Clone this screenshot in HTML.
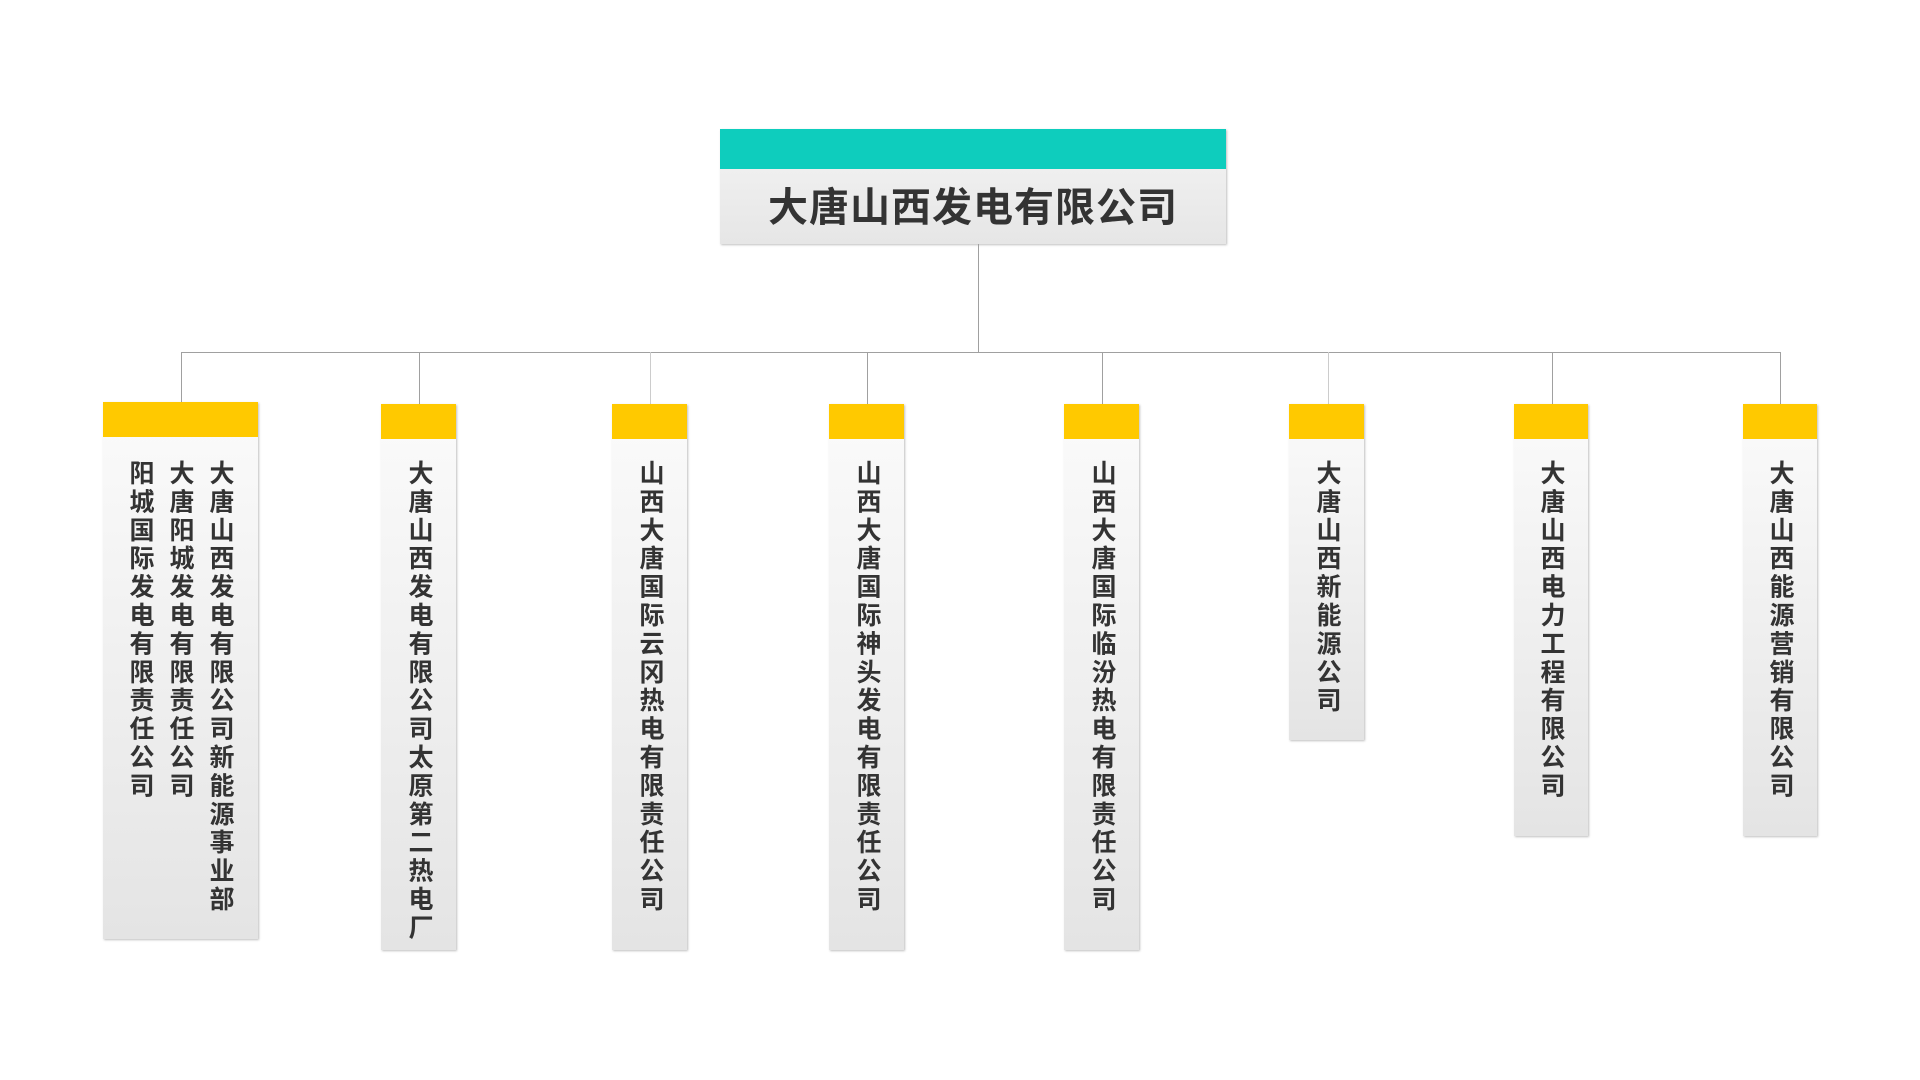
<!DOCTYPE html>
<html><head><meta charset="utf-8"><style>
body{margin:0;width:1920px;height:1080px;background:#fff;position:relative;overflow:hidden;font-family:"Liberation Sans","Noto Sans CJK SC",sans-serif}
.l{position:absolute;background:#a0a0a0}
.b{position:absolute;background:linear-gradient(#fbfbfb,#e4e4e4);box-shadow:1px 1px 2px rgba(0,0,0,.25)}
.b .y{position:absolute;left:0;right:0;top:0;height:35px;background:#ffc900}
.t{position:absolute;top:460px;writing-mode:vertical-rl;font-size:25px;letter-spacing:3.4px;font-weight:bold;color:#333;line-height:30px;white-space:nowrap}
</style></head><body>
<div class="b" style="left:720px;top:129px;width:506px;height:115px;background:linear-gradient(#f4f4f4,#e6e6e6)">
<div style="position:absolute;left:0;right:0;top:0;height:40px;background:#0ecdbd"></div>
<div style="position:absolute;left:0;right:0;top:46px;text-align:center;font-size:40px;font-weight:bold;color:#333;letter-spacing:1px">大唐山西发电有限公司</div>
</div>
<div class="l" style="left:978px;top:244px;width:1px;height:109px"></div>
<div class="l" style="left:181px;top:352px;width:1600px;height:1px"></div>
<div class="l" style="left:181px;top:352px;width:1px;height:51px"></div>
<div class="l" style="left:419px;top:352px;width:1px;height:52px"></div>
<div class="l" style="left:650px;top:352px;width:1px;height:52px;background:#ccc"></div>
<div class="l" style="left:867px;top:352px;width:1px;height:52px"></div>
<div class="l" style="left:1102px;top:352px;width:1px;height:52px"></div>
<div class="l" style="left:1328px;top:352px;width:1px;height:52px;background:#ccc"></div>
<div class="l" style="left:1552px;top:352px;width:1px;height:52px"></div>
<div class="l" style="left:1780px;top:352px;width:1px;height:52px"></div>

<div class="b" style="left:103px;top:402px;width:155px;height:537px"><div class="y"></div></div>
<div class="t" style="left:205px">大唐山西发电有限公司新能源事业部</div>
<div class="t" style="left:165px">大唐阳城发电有限责任公司</div>
<div class="t" style="left:125px">阳城国际发电有限责任公司</div>

<div class="b" style="left:381px;top:404px;width:75px;height:546px"><div class="y"></div></div>
<div class="t" style="left:404px">大唐山西发电有限公司太原第二热电厂</div>
<div class="b" style="left:612px;top:404px;width:75px;height:546px"><div class="y"></div></div>
<div class="t" style="left:635px">山西大唐国际云冈热电有限责任公司</div>
<div class="b" style="left:829px;top:404px;width:75px;height:546px"><div class="y"></div></div>
<div class="t" style="left:852px">山西大唐国际神头发电有限责任公司</div>
<div class="b" style="left:1064px;top:404px;width:75px;height:546px"><div class="y"></div></div>
<div class="t" style="left:1087px">山西大唐国际临汾热电有限责任公司</div>
<div class="b" style="left:1289px;top:404px;width:75px;height:336px"><div class="y"></div></div>
<div class="t" style="left:1312px">大唐山西新能源公司</div>
<div class="b" style="left:1514px;top:404px;width:74px;height:432px"><div class="y"></div></div>
<div class="t" style="left:1536px">大唐山西电力工程有限公司</div>
<div class="b" style="left:1743px;top:404px;width:74px;height:432px"><div class="y"></div></div>
<div class="t" style="left:1765px">大唐山西能源营销有限公司</div>
</body></html>
